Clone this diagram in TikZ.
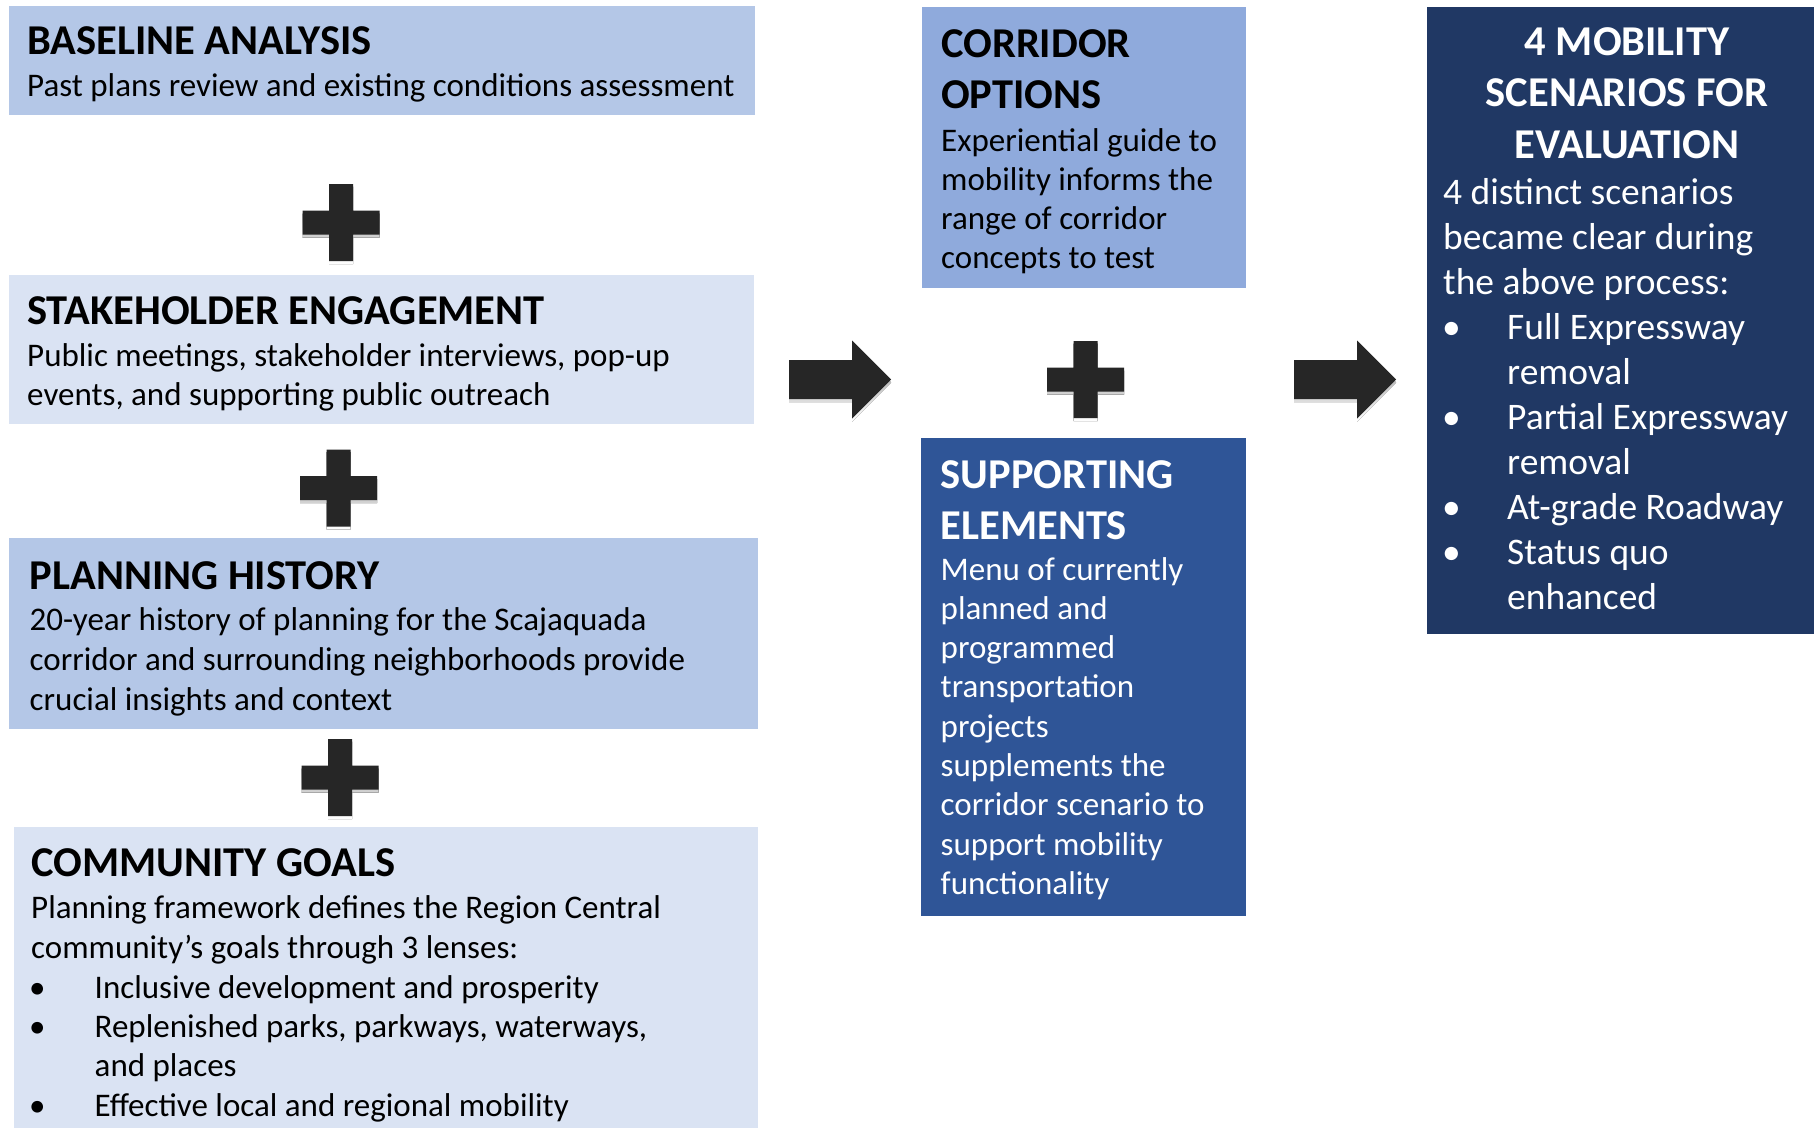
\documentclass[tikz,border=0pt]{standalone}
\usepackage{fontspec}
\setmainfont{Carlito}
\definecolor{lb}{HTML}{B4C7E7}
\definecolor{vlb}{HTML}{DAE3F3}
\definecolor{mb}{HTML}{8FAADC}
\definecolor{db}{HTML}{2F5597}
\definecolor{nb}{HTML}{203864}
\definecolor{ink}{HTML}{262626}
\definecolor{shade}{HTML}{F5F5F5}
\begin{document}
\begin{tikzpicture}[x=1pt,y=-1pt,
  box/.style={inner sep=0pt, outer sep=0pt, draw=none, anchor=north west},
  ttl/.style={anchor=base west, inner sep=0pt, font=\fontsize{42.5}{50}\selectfont\bfseries},
  body/.style={anchor=base west, inner sep=0pt, font=\fontsize{33}{40}\selectfont},
  mbody/.style={anchor=base west, inner sep=0pt, text=white, font=\fontsize{37.5}{44}\selectfont},
  plussign/.pic={
    \fill[shade] (-12,-36) -- (12,-36) -- (12,-9) -- (38.5,-9) -- (38.5,15) -- (12,15) -- (12,41.5) -- (-12,41.5) -- (-12,15) -- (-38.5,15) -- (-38.5,-9) -- (-12,-9) -- cycle;
    \fill[ink] (-12,-38.5) -- (12,-38.5) -- (12,-12) -- (38.5,-12) -- (38.5,12) -- (12,12) -- (12,38.5) -- (-12,38.5) -- (-12,12) -- (-38.5,12) -- (-38.5,-12) -- (-12,-12) -- cycle;
  },
  blockarrow/.pic={
    \fill[shade] (0,-16.5) -- (63,-16.5) -- (63,-36) -- (102,3) -- (63,42) -- (63,22.5) -- (0,22.5) -- cycle;
    \fill[ink] (0,-19.5) -- (63,-19.5) -- (63,-39) -- (102,0) -- (63,39) -- (63,19.5) -- (0,19.5) -- cycle;
  }]
\useasboundingbox (0,0) rectangle (1814,1128);
\fill[white] (0,0) rectangle (1814,1128);

% boxes
\node[box, fill=lb,  minimum width=746, minimum height=109] (baseline) at (9,6) {};
\node[box, fill=vlb, minimum width=745, minimum height=149] (stake) at (9,275) {};
\node[box, fill=lb,  minimum width=749, minimum height=191] (history) at (9,538) {};
\node[box, fill=vlb, minimum width=744, minimum height=301] (goals) at (14,827) {};
\node[box, fill=mb,  minimum width=324, minimum height=281] (corridor) at (922,7) {};
\node[box, fill=db,  minimum width=325, minimum height=478] (support) at (921,438) {};
\node[box, fill=nb,  minimum width=387, minimum height=627] (scen) at (1427,7) {};

% plus signs and arrows
\pic at (341,222.5) {plussign};
\pic at (338.5,488) {plussign};
\pic at (340,777.5) {plussign};
\pic at (1085.5,379.5) {plussign};
\pic at (789,379.5) {blockarrow};
\pic at (1294,379.5) {blockarrow};

% baseline analysis
\node[ttl] (bat) at (27,54.5) {BASELINE ANALYSIS};
\node[body] (bab) at (27,96.5) {Past plans review and existing conditions assessment};

% stakeholder engagement
\node[ttl] (set) at (27,324) {STAKEHOLDER ENGAGEMENT};
\foreach \t [count=\i from 0] in {{Public meetings, stakeholder interviews, pop-up},{events, and supporting public outreach}}
  \node[body, name=seb\i] at (27,{366+39.3*\i}) {\t};

% planning history
\node[ttl] (pht) at (29.5,589) {PLANNING HISTORY};
\foreach \t [count=\i from 0] in {{20-year history of planning for the Scajaquada},{corridor and surrounding neighborhoods provide},{crucial insights and context}}
  \node[body, name=phb\i] at (29.5,{630+40*\i}) {\t};

% community goals
\node[ttl] (cgt) at (31,876) {COMMUNITY GOALS};
\node[body] (cg0) at (31,918.5) {Planning framework defines the Region Central};
\node[body] (cg1) at (31,958) {community’s goals through 3 lenses:};
\node[body] (cgd1) at (29,998) {•};
\node[body] (cg2) at (94.5,998) {Inclusive development and prosperity};
\node[body] (cgd2) at (29,1037) {•};
\node[body] (cg3) at (94.5,1037) {Replenished parks, parkways, waterways,};
\node[body] (cg4) at (94.5,1076) {and places};
\node[body] (cgd3) at (29,1116) {•};
\node[body] (cg5) at (94.5,1116) {Effective local and regional mobility};

% corridor options
\node[ttl] (cot0) at (941,57.5) {CORRIDOR};
\node[ttl] (cot1) at (941,108) {OPTIONS};
\foreach \t [count=\i from 0] in {{Experiential guide to},{mobility informs the},{range of corridor},{concepts to test}}
  \node[body, name=cob\i] at (941,{151+39.3*\i}) {\t};

% supporting elements
\node[ttl, text=white] (spt0) at (940.5,488) {SUPPORTING};
\node[ttl, text=white] (spt1) at (940.5,539) {ELEMENTS};
\foreach \t [count=\i from 0] in {{Menu of currently},{planned and},{programmed},{transportation},{projects},{supplements the},{corridor scenario to},{support mobility},{functionality}}
  \node[body, text=white, name=spb\i] at (940.5,{580+39.3*\i}) {\t};

% mobility scenarios
\node[ttl, text=white, anchor=base] (mst0) at (1627,55) {4 MOBILITY};
\node[ttl, text=white, anchor=base] (mst1) at (1627,106.5) {SCENARIOS FOR};
\node[ttl, text=white, anchor=base] (mst2) at (1627,158) {EVALUATION};
\node[mbody] (ms0) at (1443,204) {4 distinct scenarios};
\node[mbody] (ms1) at (1443,249) {became clear during};
\node[mbody] (ms2) at (1443,294) {the above process:};
\node[mbody] (msd1) at (1442,339) {•};
\node[mbody] (ms3) at (1507,339) {Full Expressway};
\node[mbody] (ms4) at (1507,384) {removal};
\node[mbody] (msd2) at (1442,429) {•};
\node[mbody] (ms5) at (1507,429) {Partial Expressway};
\node[mbody] (ms6) at (1507,474) {removal};
\node[mbody] (msd3) at (1442,519) {•};
\node[mbody] (ms7) at (1507,519) {At-grade Roadway};
\node[mbody] (msd4) at (1442,564) {•};
\node[mbody] (ms8) at (1507,564) {Status quo};
\node[mbody] (ms9) at (1507,609) {enhanced};
\end{tikzpicture}
\end{document}
